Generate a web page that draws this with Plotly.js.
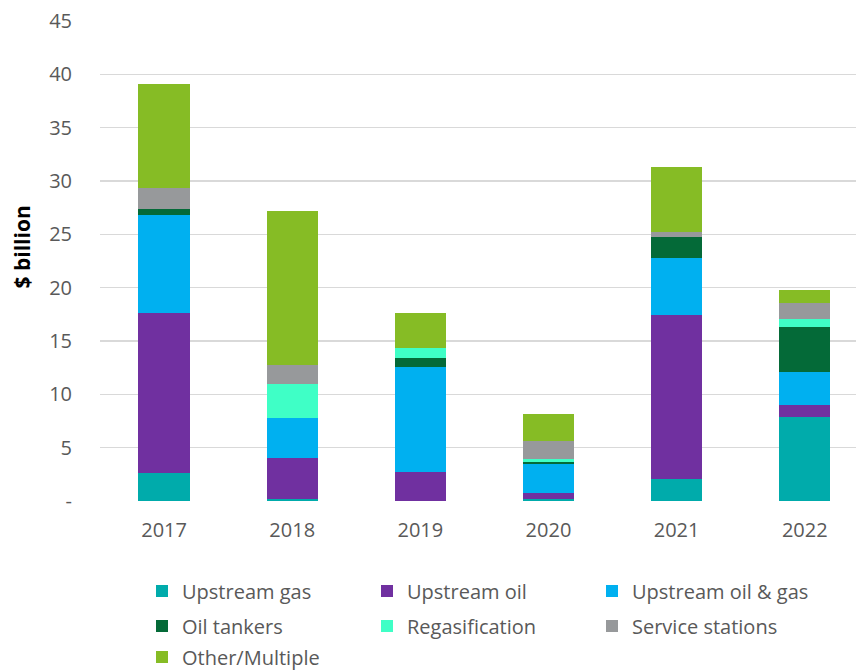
<!DOCTYPE html>
<html>
<head>
<meta charset="utf-8">
<script src="https://cdn.plot.ly/plotly-3.0.1.min.js"></script>
<style>html,body{margin:0;padding:0;background:#fff;}#chart{width:856px;height:672px;}</style>
</head>
<body>
<div id="chart"></div>
<script>
const years = ['2017', '2018', '2019', '2020', '2021', '2022'];
const upstreamGas = [2.6, 0.2, 0.0, 0.15, 2.1, 7.87];
const upstreamOil = [15.05, 3.86, 2.69, 0.57, 15.34, 1.13];
const upstreamOilGas = [9.15, 3.75, 9.84, 2.72, 5.32, 3.09];
const oilTankers = [0.55, 0.0, 0.84, 0.25, 1.96, 4.25];
const regasification = [0.0, 3.2, 0.94, 0.22, 0.0, 0.69];
const serviceStations = [2.0, 1.7, 0.0, 1.71, 0.5, 1.56];
const otherMultiple = [9.7, 14.45, 3.34, 2.53, 6.12, 1.19];
const yTickVals = [0, 5, 10, 15, 20, 25, 30, 35, 40, 45];
const yTickText = ['-', '5', '10', '15', '20', '25', '30', '35', '40', '45'];

const series = [
  {name: 'Upstream gas', y: upstreamGas, color: '#00ABAB', legend: 'legend'},
  {name: 'Upstream oil', y: upstreamOil, color: '#7030A0', legend: 'legend'},
  {name: 'Upstream oil & gas', y: upstreamOilGas, color: '#00B0F0', legend: 'legend'},
  {name: 'Oil tankers', y: oilTankers, color: '#046A38', legend: 'legend2'},
  {name: 'Regasification', y: regasification, color: '#3FFFC6', legend: 'legend2'},
  {name: 'Service stations', y: serviceStations, color: '#97999B', legend: 'legend2'},
  {name: 'Other/Multiple', y: otherMultiple, color: '#86BC25', legend: 'legend3'}
];

const data = series.map(s => ({
  type: 'bar',
  name: s.name,
  x: years,
  y: s.y,
  legend: s.legend,
  marker: {color: s.color, line: {width: 0}},
  hoverinfo: 'name+y'
}));

function legendRow(yPx) {
  return {
    orientation: 'h',
    traceorder: 'normal',
    xref: 'container',
    yref: 'container',
    x: 142 / 856,
    xanchor: 'left',
    y: 1 - yPx / 672,
    yanchor: 'middle',
    entrywidth: 180,
    entrywidthmode: 'pixels',
    font: {size: 20, color: '#595959'},
    bgcolor: 'rgba(0,0,0,0)'
  };
}

const layout = {
  width: 856,
  height: 672,
  barmode: 'stack',
  bargap: 0.6,
  paper_bgcolor: '#ffffff',
  plot_bgcolor: '#ffffff',
  font: {family: '"Open Sans", sans-serif', size: 20, color: '#595959'},
  margin: {l: 100, r: 0, t: 21, b: 171, pad: 0},
  xaxis: {
    type: 'category',
    range: [-0.5, 5.4],
    showgrid: false,
    zeroline: false,
    showline: false,
    ticks: '',
    ticklabelstandoff: 15,
    tickfont: {size: 20, color: '#595959'}
  },
  yaxis: {
    range: [0, 45],
    tickvals: yTickVals,
    ticktext: yTickText,
    showgrid: true,
    gridcolor: '#D9D9D9',
    gridwidth: 1.5,
    zeroline: false,
    showline: false,
    ticks: '',
    ticklabelstandoff: 27,
    tickfont: {size: 20, color: '#595959'}
  },
  annotations: [{
    text: '<b>$ billion</b>',
    textangle: -90,
    xref: 'paper',
    yref: 'paper',
    x: (21 - 100) / 756,
    y: (501 - 247.5) / 480,
    xanchor: 'center',
    yanchor: 'middle',
    showarrow: false,
    font: {size: 21, color: '#000000'}
  }],
  legend: legendRow(591),
  legend2: legendRow(626),
  legend3: legendRow(657),
  showlegend: true
};

Plotly.newPlot('chart', data, layout, {displayModeBar: false, staticPlot: true});
</script>
</body>
</html>
